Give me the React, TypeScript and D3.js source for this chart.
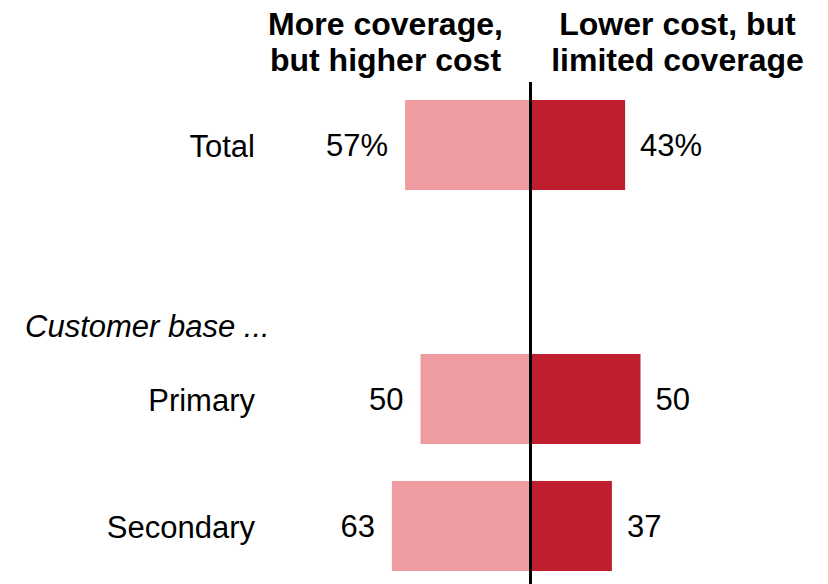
import React from "react";
import * as d3 from "d3";

const rows = ["Total", "_spacer", "Primary", "Secondary"];
const categories = ["Total", "Primary", "Secondary"];
const leftValues = [57, 50, 63];
const rightValues = [43, 50, 37];
const valueLabelsLeft = ["57%", "50", "63"];
const valueLabelsRight = ["43%", "50", "37"];
const leftHeader = ["More coverage,", "but higher cost"];
const rightHeader = ["Lower cost, but", "limited coverage"];
const groupLabel = "Customer base ...";

const W = 828;
const H = 584;
const LIGHT = "#EE9CA2";
const DARK = "#BE1E2D";
const FONT = "Arial, 'Liberation Sans', sans-serif";

export default function App() {
  const x = d3.scaleLinear().domain([-100, 100]).range([310.5, 750.5]);
  const y = d3
    .scaleBand<string>()
    .domain(rows)
    .range([100, 571])
    .paddingInner(0.291)
    .paddingOuter(0);
  const cx = x(0);
  const bw = y.bandwidth();

  return (
    <svg
      width={W}
      height={H}
      style={{ position: "absolute", left: 0, top: 0, background: "#fff" }}
      fontFamily={FONT}
    >
      {/* headers */}
      <text x={cx - 145} y={35} textAnchor="middle" fontSize={32} fontWeight="bold" fill="#000">
        {leftHeader.map((t, i) => (
          <tspan key={i} x={cx - 145} dy={i === 0 ? 0 : 36}>
            {t}
          </tspan>
        ))}
      </text>
      <text x={cx + 147} y={35} textAnchor="middle" fontSize={32} fontWeight="bold" fill="#000">
        {rightHeader.map((t, i) => (
          <tspan key={i} x={cx + 147} dy={i === 0 ? 0 : 36}>
            {t}
          </tspan>
        ))}
      </text>

      {/* group label */}
      <text x={25} y={(y("Primary") as number) - 17} fontSize={31} fontStyle="italic" fill="#000">
        {groupLabel}
      </text>

      {categories.map((c, i) => {
        const top = y(c) as number;
        const mid = top + bw / 2;
        return (
          <g key={c}>
            <rect x={x(-leftValues[i])} y={top} width={cx - x(-leftValues[i])} height={bw} fill={LIGHT} />
            <rect x={cx} y={top} width={x(rightValues[i]) - cx} height={bw} fill={DARK} />
            <text x={255} y={mid} dy="0.38em" textAnchor="end" fontSize={31} fill="#000">
              {c}
            </text>
            <text x={x(-leftValues[i]) - 17} y={mid} dy="0.36em" textAnchor="end" fontSize={31} fill="#000">
              {valueLabelsLeft[i]}
            </text>
            <text x={x(rightValues[i]) + 15} y={mid} dy="0.36em" textAnchor="start" fontSize={31} fill="#000">
              {valueLabelsRight[i]}
            </text>
          </g>
        );
      })}

      <line x1={cx} x2={cx} y1={82} y2={H} stroke="#000" strokeWidth={3} />
    </svg>
  );
}
